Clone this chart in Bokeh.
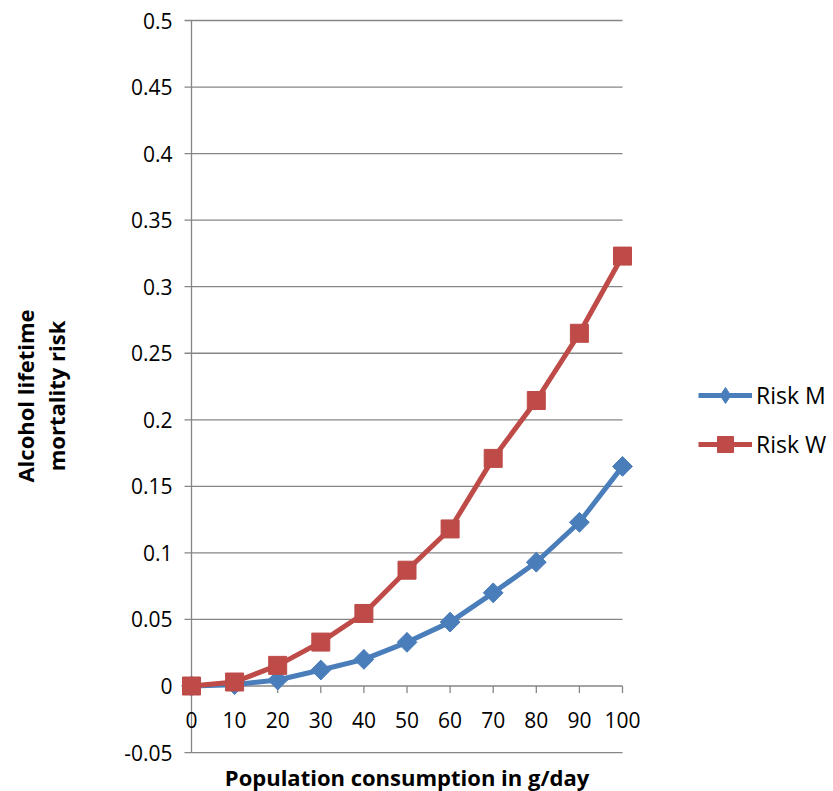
from math import pi
from bokeh.plotting import figure
from bokeh.models import (Range1d, FixedTicker, NumeralTickFormatter, Legend, LegendItem,
                          ColumnDataSource)
from bokeh.core.properties import value
from bokeh.embed import file_html
from bokeh.resources import INLINE

# ---- data ----
consumption = [0, 10, 20, 30, 40, 50, 60, 70, 80, 90, 100]
risk_m = [0.0, 0.001, 0.0045, 0.012, 0.020, 0.0328, 0.048, 0.070, 0.093, 0.123, 0.165]
risk_w = [0.0, 0.003, 0.0155, 0.033, 0.0545, 0.087, 0.118, 0.171, 0.2145, 0.265, 0.323]
y_ticks = [-0.05, 0, 0.05, 0.1, 0.15, 0.2, 0.25, 0.3, 0.35, 0.4, 0.45, 0.5]
x_tick_labels = [str(v) for v in consumption]
x_title = "Population consumption in g/day"
y_title = "Alcohol lifetime\nmortality risk"
series_names = ["Risk M", "Risk W"]

FONT = "Open Sans"
GRID = "#868686"
BLUE = "#4A7EBB"
RED = "#BE4B48"

x_lo, x_hi = 0, 100
y_lo, y_hi = -0.05, 0.5

W, H = 833, 791
left_border = 178
px_per_x = 4.31          # pixels per x unit
px_per_y = 1331.0        # pixels per y unit
x0_px = 13.0             # distance of x=0 from frame left edge
y0_px = 685.5            # distance of y=0 from frame top edge
frame_w = W - left_border

x_start = x_lo - x0_px / px_per_x
x_end = x_start + frame_w / px_per_x
y_end = y0_px / px_per_y
y_start = -(H - y0_px) / px_per_y

p = figure(width=W, height=H, output_backend="svg", toolbar_location=None,
           x_axis_location=None,
           x_range=Range1d(x_start, x_end), y_range=Range1d(y_start, y_end),
           min_border=0, min_border_left=left_border)
p.outline_line_color = None
p.xgrid.visible = False
p.ygrid.visible = False

tick_len_x = 7.0 / px_per_x
tick_len_y = 7.0 / px_per_y

# y axis: tick labels and title (its lines are drawn as glyphs below)
ya = p.yaxis[0]
ya.ticker = FixedTicker(ticks=y_ticks)
ya.formatter = NumeralTickFormatter(format="0.[00]")
ya.axis_line_color = None
ya.major_tick_line_color = None
ya.minor_tick_line_color = None
ya.major_tick_out = 0
ya.major_label_standoff = 6
ya.major_label_text_font = FONT
ya.major_label_text_font_size = "21px"
ya.major_label_text_color = "black"
ya.axis_label = y_title
ya.axis_label_text_font = FONT
ya.axis_label_text_font_style = "bold"
ya.axis_label_text_font_size = "22px"
ya.axis_label_text_line_height = 1.04
ya.axis_label_text_color = "black"
ya.axis_label_standoff = 50

# gridlines (with outward tick stubs) and the vertical axis line at x = 0
p.segment(x0=[x_lo - tick_len_x] * len(y_ticks), y0=y_ticks,
          x1=[x_hi] * len(y_ticks), y1=y_ticks, line_color=GRID, line_width=1.3)
p.segment(x0=[x_lo], y0=[y_lo], x1=[x_lo], y1=[y_hi], line_color=GRID, line_width=1.3)
# category axis crossing at y = 0: tick marks and labels
p.segment(x0=consumption, y0=[0] * len(consumption), x1=consumption,
          y1=[-tick_len_y] * len(consumption), line_color=GRID, line_width=1.3)
p.text(x=consumption, y=[0] * len(consumption), text=x_tick_labels,
       text_font=value(FONT), text_font_size="21px", text_align="center",
       text_baseline="middle", y_offset=34, text_color="black")
# x axis title below the plot area
p.text(x=[(x_lo + x_hi) / 2], y=[y_lo], text=[x_title],
       text_font=value(FONT), text_font_size="22px", text_font_style="bold",
       text_align="center", text_baseline="middle", y_offset=24, text_color="black")

src = ColumnDataSource(dict(x=consumption, m=risk_m, w=risk_w))
lm = p.line("x", "m", source=src, line_color=BLUE, line_width=5)
# diamond (used for the legend key) lies fully under the rotated square markers
dm = p.scatter("x", "m", source=src, marker="diamond", size=19,
               fill_color=BLUE, line_color=BLUE)
sm = p.scatter("x", "m", source=src, marker="square", angle=pi / 4, size=14,
               fill_color=BLUE, line_color=BLUE)
lw = p.line("x", "w", source=src, line_color=RED, line_width=5)
sw = p.scatter("x", "w", source=src, marker="square", size=18,
               fill_color=RED, line_color=RED)

legend = Legend(items=[LegendItem(label=series_names[0], renderers=[lm, dm]),
                       LegendItem(label=series_names[1], renderers=[lw, sw])],
                location=(520, 327), orientation="vertical",
                glyph_width=54, glyph_height=40, label_height=40, label_standoff=4,
                spacing=9, padding=0, margin=0, border_line_color=None,
                background_fill_alpha=0,
                label_text_font=FONT, label_text_font_size="23px", label_text_color="black")
p.add_layout(legend, "center")

open("out.html", "w").write(file_html(p, INLINE))
